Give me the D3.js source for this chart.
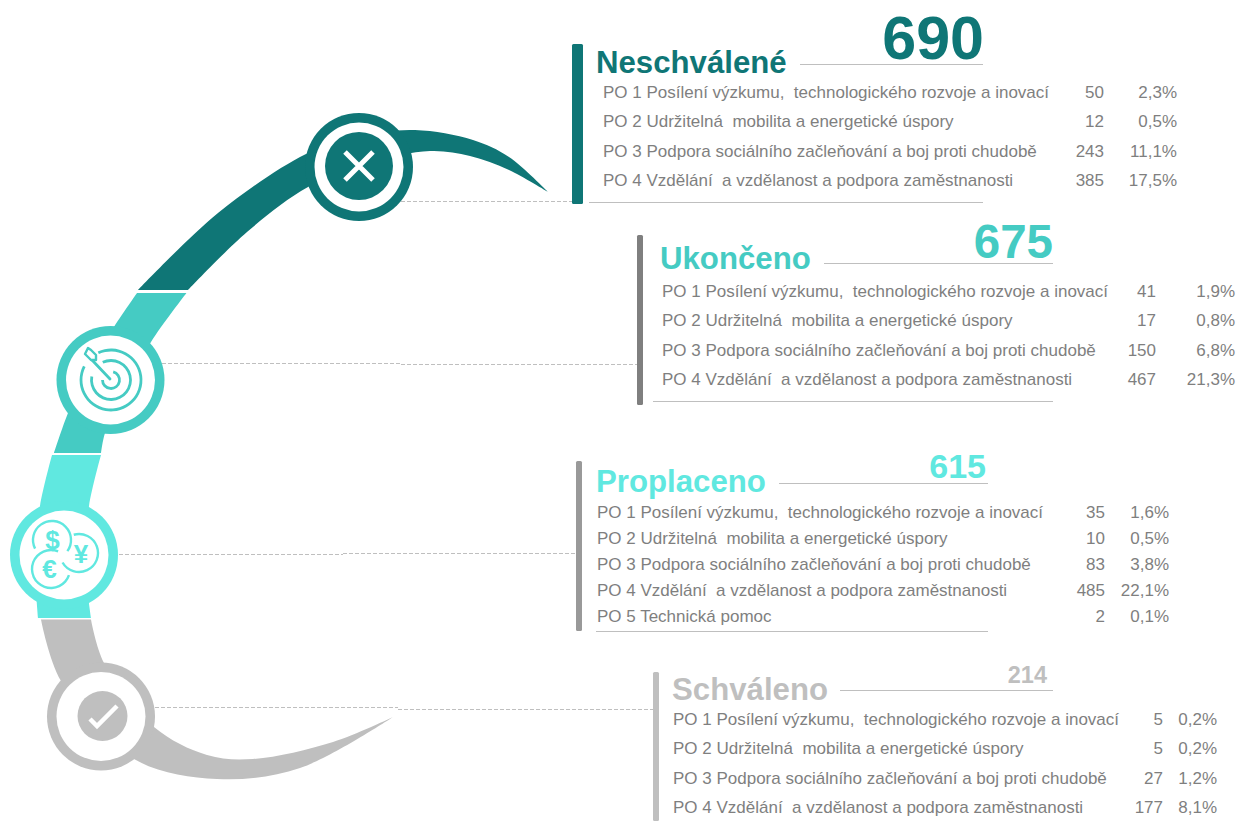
<!DOCTYPE html>
<html>
<head>
<meta charset="utf-8">
<script src="https://cdn.jsdelivr.net/npm/d3@7"></script>
<style>
  html, body { margin: 0; padding: 0; background: #fff; }
  svg { display: block; }
  text { font-family: "Liberation Sans", Arial, sans-serif; white-space: pre; }
</style>
</head>
<body>
<svg width="1237" height="821"></svg>
<script>
// values
let statuses = ["Neschválené", "Ukončeno", "Proplaceno", "Schváleno"];
let totals = [690, 675, 615, 214];
let po_labels = [
  "PO 1 Posílení výzkumu,  technologického rozvoje a inovací",
  "PO 2 Udržitelná  mobilita a energetické úspory",
  "PO 3 Podpora sociálního začleňování a boj proti chudobě",
  "PO 4 Vzdělání  a vzdělanost a podpora zaměstnanosti",
  "PO 5 Technická pomoc"
];
let neschvalene_counts = [50, 12, 243, 385];
let neschvalene_pct = ["2,3%", "0,5%", "11,1%", "17,5%"];
let ukonceno_counts = [41, 17, 150, 467];
let ukonceno_pct = ["1,9%", "0,8%", "6,8%", "21,3%"];
let proplaceno_counts = [35, 10, 83, 485, 2];
let proplaceno_pct = ["1,6%", "0,5%", "3,8%", "22,1%", "0,1%"];
let schvaleno_counts = [5, 5, 27, 177];
let schvaleno_pct = ["0,2%", "0,2%", "1,2%", "8,1%"];

let counts = [neschvalene_counts, ukonceno_counts, proplaceno_counts, schvaleno_counts];
let pcts = [neschvalene_pct, ukonceno_pct, proplaceno_pct, schvaleno_pct];

let DARK = "#0f7676", TEAL = "#45cbc3", CYAN = "#60e8e0", GRAY = "#bfbfbf", TEXT = "#7f7f7f";

// panel layout, same order as statuses
let panels = [
  { color: DARK, bar: [572, 44, 11, 160], barColor: DARK, titleX: 596, titleY: 73, titleSize: 31.2,
    rule: [800, 983, 64.5], numRight: 984, numY: 59, numSize: 61,
    rowX: 603, rowY: [98, 186], valX: 1104, pctX: 1177, under: [589, 983, 202.5] },
  { color: TEAL, bar: [637, 235, 6, 170], barColor: "#7f7f7f", titleX: 660, titleY: 269, titleSize: 31.2,
    rule: [824, 1053, 263.5], numRight: 1053, numY: 258, numSize: 47.5,
    rowX: 662, rowY: [297, 385], valX: 1156, pctX: 1235, under: [653, 1053, 401.5] },
  { color: CYAN, bar: [576, 461, 6, 170], barColor: "#999999", titleX: 596, titleY: 492, titleSize: 31.2,
    rule: [779, 988, 483.5], numRight: 986, numY: 478, numSize: 34,
    rowX: 597, rowY: [518, 622], valX: 1105, pctX: 1169, under: [596, 988, 631.5] },
  { color: GRAY, bar: [653, 672, 6, 149], barColor: GRAY, titleX: 672, titleY: 700, titleSize: 31.2,
    rule: [840, 1053, 690.5], numRight: 1047, numY: 683, numSize: 23.5,
    rowX: 673, rowY: [725, 813], valX: 1163, pctX: 1217, under: null }
];

let svg = d3.select("svg");

// the swoosh is drawn first, circles go on top of it
let edge = d3.line().curve(d3.curveCatmullRom.alpha(0.5));

function band(outer, inner, color) {
  let d = edge(outer) + "L" + edge(inner.slice().reverse()).slice(1) + "Z";
  svg.append("path").attr("d", d).attr("fill", color);
}

band(
  [[548, 192], [509, 157], [473, 140], [415, 130], [359, 136], [306, 154], [218, 213], [138, 290]],
  [[548, 192], [509, 170], [470, 156], [430, 151], [370, 163], [308, 187], [247, 232], [188, 290]],
  DARK
);
band(
  [[137, 293], [114.5, 326], [90, 365], [68, 413], [54, 453]],
  [[186.5, 293], [151, 342], [125, 390], [105, 433], [101, 453]],
  TEAL
);
band(
  [[52, 455], [40, 506], [35, 560], [38, 618]],
  [[101, 455], [89, 506], [85, 560], [91, 618]],
  CYAN
);
band(
  [[41, 619.5], [61, 681], [134, 759], [217, 779], [300, 768], [393, 717]],
  [[91, 619.5], [104, 663], [154, 727], [207, 755], [253, 759], [333, 742], [393, 717]],
  GRAY
);

// dashed leaders
let leaders = [
  [[401, 201.5], [575, 201.5]],
  [[162, 363.5], [401, 363.5]],
  [[401, 364.5], [640, 364.5]],
  [[119, 554.5], [343, 554.5]],
  [[343, 553.5], [578, 553.5]],
  [[155, 707.5], [398, 707.5]],
  [[398, 709.5], [655, 709.5]]
];
svg.selectAll(".leader")
  .data(leaders)
  .enter()
  .append("path")
  .attr("class", "leader")
  .attr("d", d => d3.line()(d))
  .attr("fill", "none")
  .attr("stroke", GRAY)
  .attr("stroke-width", 1.2)
  .attr("stroke-dasharray", "4 2");

// rings
let rings = [
  { x: 359, y: 167, color: DARK },
  { x: 110.5, y: 380, color: TEAL },
  { x: 64, y: 555, color: CYAN },
  { x: 101, y: 716.5, color: GRAY }
];
let ring_g = svg.selectAll(".ring")
  .data(rings)
  .enter()
  .append("g")
  .attr("class", "ring")
  .attr("transform", d => `translate(${d.x},${d.y})`);
ring_g.append("circle").attr("r", 54).attr("fill", d => d.color);
ring_g.append("circle").attr("r", 44.5).attr("fill", "#fff");

// icons
let rad = a => (a * Math.PI) / 180;
let arc = d3.arc();

function ring_arc(g, x, y, r, w, from, to, color) {
  g.append("path")
    .attr("transform", `translate(${x},${y})`)
    .attr("d", arc({ innerRadius: r - w / 2, outerRadius: r + w / 2, startAngle: rad(from), endAngle: rad(to) }))
    .attr("fill", color);
}

// cross
let cross = svg.append("g");
cross.append("circle").attr("cx", 359).attr("cy", 166).attr("r", 34).attr("fill", DARK);
cross.append("path")
  .attr("d", "M345,152L373,180M373,152L345,180")
  .attr("stroke", "#fff")
  .attr("stroke-width", 5)
  .attr("fill", "none");

// target
let target = svg.append("g");
ring_arc(target, 111, 380, 30, 2.8, -25, 297, TEAL);
ring_arc(target, 111, 380, 19.5, 2.8, -25, 280, TEAL);
ring_arc(target, 111, 380, 8.5, 2.8, 15, 270, TEAL);
target.append("path")
  .attr("d", "M110,379L92,360")
  .attr("stroke", TEAL)
  .attr("stroke-width", 2.8)
  .attr("stroke-linecap", "round");
target.append("path")
  .attr("d", "M88,348L85,354L91,360L96,360L96,355L91,350Z")
  .attr("fill", "#fff")
  .attr("stroke", TEAL)
  .attr("stroke-width", 2.4)
  .attr("stroke-linejoin", "round");

// coins
let coins = svg.append("g");
ring_arc(coins, 52, 540, 19, 2.4, -117, 126, CYAN);
ring_arc(coins, 51, 569, 19, 2.4, 109, 382, CYAN);
ring_arc(coins, 79, 553, 19, 2.4, -16, 240, CYAN);
coins.selectAll("text")
  .data([["$", 52.5, 549], ["€", 49.5, 578], ["¥", 81, 563]])
  .enter()
  .append("text")
  .attr("x", d => d[1])
  .attr("y", d => d[2])
  .attr("text-anchor", "middle")
  .attr("font-size", 26)
  .attr("font-weight", "bold")
  .attr("fill", CYAN)
  .text(d => d[0]);

// check
let check = svg.append("g");
check.append("circle").attr("cx", 102.5).attr("cy", 716).attr("r", 25).attr("fill", GRAY);
check.append("path")
  .attr("d", "M90,719L97,726L117,706")
  .attr("fill", "none")
  .attr("stroke", "#fff")
  .attr("stroke-width", 4.5);

// panels
panels.forEach((p, i) => {
  let g = svg.append("g").attr("class", "panel");

  g.append("rect")
    .attr("x", p.bar[0])
    .attr("y", p.bar[1])
    .attr("width", p.bar[2])
    .attr("height", p.bar[3])
    .attr("rx", 1.5)
    .attr("fill", p.barColor);

  g.append("text")
    .attr("x", p.titleX)
    .attr("y", p.titleY)
    .attr("font-size", p.titleSize)
    .attr("font-weight", "bold")
    .attr("fill", p.color)
    .text(statuses[i]);

  g.append("line")
    .attr("x1", p.rule[0])
    .attr("x2", p.rule[1])
    .attr("y1", p.rule[2])
    .attr("y2", p.rule[2])
    .attr("stroke", GRAY);

  g.append("text")
    .attr("x", p.numRight)
    .attr("y", p.numY)
    .attr("text-anchor", "end")
    .attr("font-size", p.numSize)
    .attr("font-weight", "bold")
    .attr("fill", p.color)
    .text(totals[i]);

  if (p.under) {
    g.append("line")
      .attr("x1", p.under[0])
      .attr("x2", p.under[1])
      .attr("y1", p.under[2])
      .attr("y2", p.under[2])
      .attr("stroke", GRAY);
  }

  let rows = d3.scalePoint().domain(d3.range(counts[i].length)).range(p.rowY);
  let row = g.selectAll(".row")
    .data(counts[i])
    .enter()
    .append("g")
    .attr("class", "row")
    .attr("transform", (d, j) => `translate(0,${rows(j)})`)
    .attr("font-size", 17)
    .attr("fill", TEXT);
  row.append("text").attr("x", p.rowX).text((d, j) => po_labels[j]);
  row.append("text").attr("x", p.valX).attr("text-anchor", "end").text(d => d);
  row.append("text").attr("x", p.pctX).attr("text-anchor", "end").text((d, j) => pcts[i][j]);
});
</script>
</body>
</html>
